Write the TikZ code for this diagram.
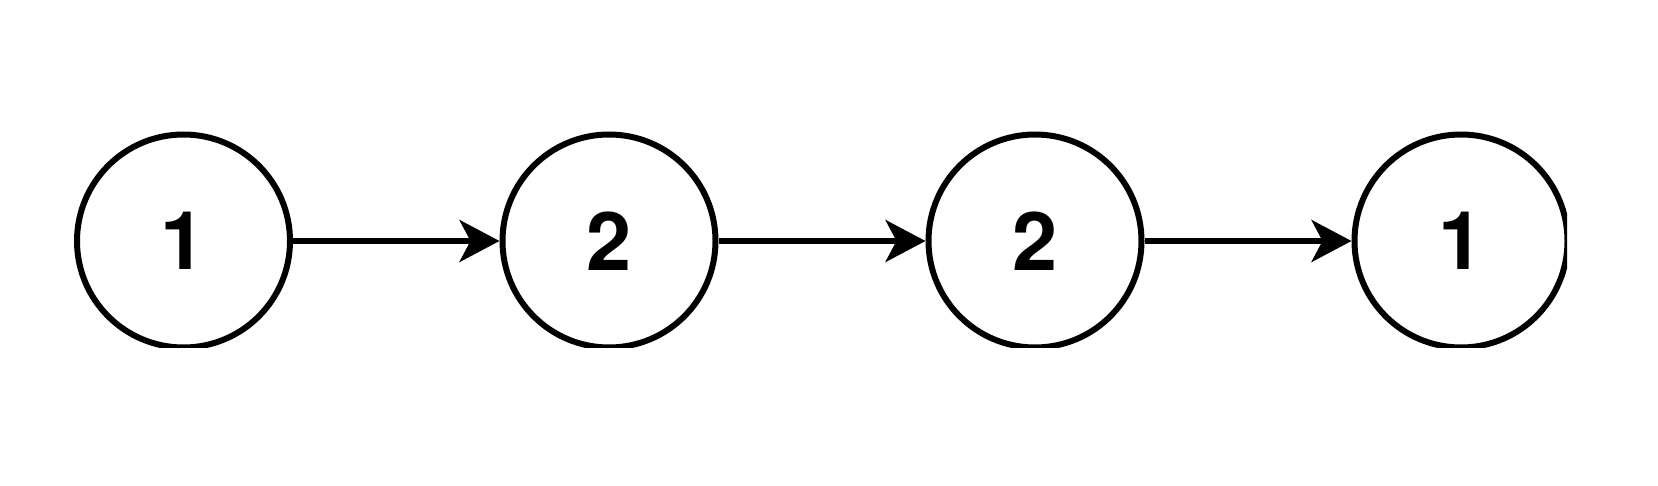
\documentclass[tikz,border=0pt]{standalone}
\usepackage{fontspec}
\newfontfamily\numfont{TeX Gyre Heros}
\usetikzlibrary{arrows.meta}
\tikzset{
  numnode/.style={circle, draw=black, line width=6pt, minimum size=213pt, inner sep=0pt, fill=white,
    font=\numfont\bfseries\fontsize{81}{81}\selectfont},
  link/.style={line width=5.5pt, -{Stealth[length=40pt, width=42pt, inset=11pt]}}
}
\begin{document}
\begin{tikzpicture}[x=1pt,y=1pt]
\useasboundingbox (0,0) rectangle (1658,-486);
\begin{scope}
\clip (0,0) rectangle (1567,-348);
\node[numnode] (a) at (183.5,-241) {1};
\node[numnode] (b) at (609,-241) {2};
\node[numnode] (c) at (1035,-241) {2};
\node[numnode] (d) at (1461,-241) {1};
\draw[link] (a) -- (b);
\draw[link] (b) -- (c);
\draw[link] (c) -- (d);
\end{scope}
\end{tikzpicture}
\end{document}
